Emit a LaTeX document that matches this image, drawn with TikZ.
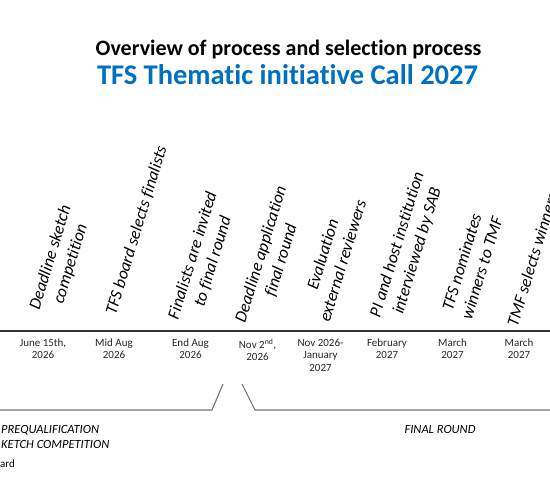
\documentclass[tikz,border=0pt]{standalone}
\usepackage{fontspec}
\setmainfont{Carlito}[Ligatures=NoCommon]
\usetikzlibrary{positioning,calc}
\definecolor{tfsblue}{RGB}{0,112,192}
\tikzset{
  ttl/.style={inner sep=0pt, font=\fontsize{22}{26}\selectfont\bfseries},
  ttlB/.style={ttl, text=tfsblue, font=\fontsize{28.5}{32}\selectfont\bfseries},
  evt/.style={rotate=73, anchor=west, align=center, inner sep=0pt,
              font=\fontsize{17}{21}\selectfont\itshape},
  dat/.style={anchor=north, align=center, inner sep=0pt, text=black!85,
              font=\fontsize{11}{12.6}\selectfont},
  phs/.style={align=left, inner sep=0pt,
              font=\fontsize{12.5}{14.3}\selectfont\itshape},
  tl/.style={line width=2pt, draw=black!80},
  brk/.style={line width=1.1pt, draw=black!55},
}

\begin{document}
\begin{tikzpicture}[x=1pt,y=-1pt]
\useasboundingbox (0,0) rectangle (550,498);
\clip (0,0) rectangle (550,498);

% ============================ title ============================
\node[ttl] (t1) at (288.5,50) {Overview of process and selection process};
\node[ttlB] (t2) at (287.5,75) {TFS Thematic initiative Call 2027};

% ============================ milestones ============================
\node[evt] (e1) at (45,312.5) {Deadline sketch\\competition};
\node[evt] (e2) at (111,314) {TFS board selects finalists};
\node[evt] (e3) at (183.5,322) {Finalists are invited\\to final round};
\node[evt] (e4) at (250.5,325) {Deadline application\\final round};
\node[evt] (e5) at (314,318) {Evaluation\\external reviewers};
\node[evt] (e6) at (385.5,320) {PI and host institution\\interviewed by SAB};
\node[evt] (e7) at (456,316) {TFS nominates\\winners to TMF};
\node[evt] (e8) at (512,326) {TMF selects winners};

% ============================ time axis ============================
\coordinate (tlW) at (0,331);
\coordinate (tlE) at (550,331);
\draw[tl] (tlW) -- (tlE);

\node[dat] (d1) at (43,338.5) {June 15th,\\2026};
\node[dat] (d2) at (114,338.5) {Mid Aug\\2026};
\node[dat] (d3) at (190.5,338.5) {End Aug\\2026};
\node[dat] (d4) at (257.5,338.5) {Nov 2\textsuperscript{nd},\\2026};
\node[dat] (d5) at (320.5,338.5) {Nov 2026-\\January\\2027};
\node[dat] (d6) at (387,338.5) {February\\2027};
\node[dat] (d7) at (452.5,338.5) {March\\2027};
\node[dat] (d8) at (519,338.5) {March\\2027};

% ============================ phases ============================
\coordinate (pA) at (0,410);
\coordinate (pB) at (212,410);
\coordinate (pC) at (223,384);
\coordinate (fA) at (242,384);
\coordinate (fB) at (255,410);
\coordinate (fC) at (550,410);
\draw[brk] (pA) -- (pB) -- (pC);
\draw[brk] (fA) -- (fB) -- (fC);

\node[phs, anchor=west] (pq) at (1,437) {PREQUALIFICATION\\KETCH COMPETITION};
\node[anchor=west, inner sep=0pt, font=\fontsize{11}{13}\selectfont] (bd) at (0,463.5) {ard};
\node[phs] (fr) at (440,429.5) {FINAL ROUND};

\end{tikzpicture}
\end{document}
